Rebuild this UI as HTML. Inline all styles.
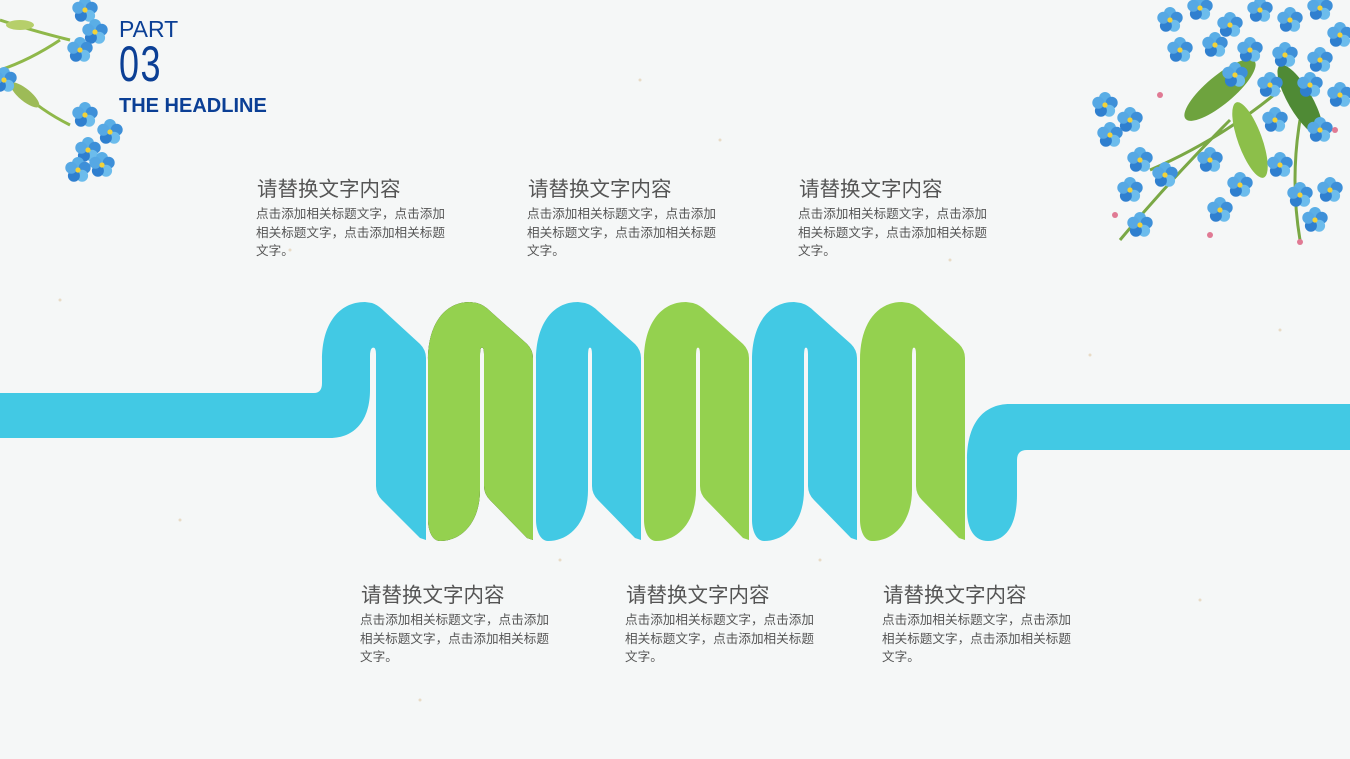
<!DOCTYPE html>
<html><head><meta charset="utf-8"><style>
body{margin:0;width:1350px;height:759px;overflow:hidden;background:#f5f7f7;font-family:"Liberation Sans","Noto Sans CJK SC",sans-serif;position:relative}
.t{position:absolute;font-size:20.5px;color:#555;white-space:nowrap}
.b{position:absolute;font-size:12.6px;line-height:18.6px;color:#555;width:200px}
svg{position:absolute;left:0;top:0}
</style></head><body>
<svg width="1350" height="759" viewBox="0 0 1350 759">
<defs>
<g id="fl">
<circle cx="0" cy="-7" r="6" fill="#5aaee6"/><circle cx="6.7" cy="-2.2" r="6" fill="#3d8fd8"/><circle cx="4.1" cy="5.7" r="6" fill="#6cbcec"/><circle cx="-4.1" cy="5.7" r="6" fill="#2f7fcf"/><circle cx="-6.7" cy="-2.2" r="6" fill="#56a8e4"/><circle r="2.6" fill="#f2d23a"/>
</g>
</defs>
<g fill="#e3cfb0" opacity=".7">
<circle cx="60" cy="300" r="1.5"/><circle cx="180" cy="520" r="1.5"/><circle cx="640" cy="80" r="1.5"/><circle cx="820" cy="560" r="1.5"/><circle cx="1090" cy="355" r="1.5"/><circle cx="1200" cy="600" r="1.5"/><circle cx="420" cy="700" r="1.5"/><circle cx="950" cy="260" r="1.5"/><circle cx="290" cy="250" r="1.5"/><circle cx="1280" cy="330" r="1.5"/><circle cx="720" cy="140" r="1.5"/><circle cx="560" cy="560" r="1.5"/>
</g>
<path fill="#42c9e4" d="M0,393 L314,393 Q322,393 322,383 L322,360 C322,325 338,302 365,302 L372,303 Q378,305 384,311 L420,344 Q426,350 426,358 L426,540 L420,538 L382,500 Q376,494 376,486 L376,354 Q376,346 372,348 Q370,350 370,356 L370,390 C370,420 355,438 330,438 L0,438 Z"/>
<g id="pc">
<path d="M428,500 L428,360 C428,325 444,302 470,302 L477,303 Q484,305 490,311 L527,344 Q533,350 533,358 L533,540 L527,538 L490,500 Q484,494 484,486 L484,354 Q484,346 481,348 Q480,350 480,356 L480,490 C480,522 462,541 440,541 C432,541 428,530 428,520 Z"/>
</g>
<use href="#pc" fill="#94d14f"/>
<use href="#pc" x="108" fill="#42c9e4"/>
<use href="#pc" x="216" fill="#94d14f"/>
<use href="#pc" x="324" fill="#42c9e4"/>
<use href="#pc" x="432" fill="#94d14f"/>
<path fill="#42c9e4" d="M1350,404 L1010,404 C982,404 967,425 967,460 L967,510 C967,530 975,541 988,541 C1006,541 1017,525 1017,495 L1017,460 Q1017,450 1027,450 L1350,450 Z"/>
<path d="M0,70 Q30,60 60,40 M20,90 Q40,110 70,125 M0,20 Q30,30 70,40" stroke="#8fb84a" stroke-width="3" fill="none"/>
<ellipse cx="25" cy="95" rx="18" ry="6" fill="#9dbb57" transform="rotate(40 25 95)"/>
<ellipse cx="20" cy="25" rx="14" ry="5" fill="#b6cf6a"/>
<use href="#fl" x="85" y="10"/><use href="#fl" x="95" y="32"/><use href="#fl" x="80" y="50"/><use href="#fl" x="4" y="80"/>
<use href="#fl" x="85" y="115"/><use href="#fl" x="110" y="132"/><use href="#fl" x="88" y="150"/><use href="#fl" x="102" y="165"/><use href="#fl" x="78" y="170"/>
<path d="M1120,240 Q1170,180 1230,120 M1150,170 Q1220,140 1280,90 M1300,240 Q1290,180 1300,120" stroke="#7aa845" stroke-width="3" fill="none"/>
<ellipse cx="1220" cy="90" rx="45" ry="14" fill="#6ea33e" transform="rotate(-40 1220 90)"/>
<ellipse cx="1250" cy="140" rx="40" ry="12" fill="#8cbf4a" transform="rotate(70 1250 140)"/>
<ellipse cx="1300" cy="100" rx="40" ry="12" fill="#4f8a35" transform="rotate(60 1300 100)"/>
<g>
<use href="#fl" x="1170" y="20"/><use href="#fl" x="1200" y="8"/><use href="#fl" x="1230" y="25"/><use href="#fl" x="1260" y="10"/><use href="#fl" x="1290" y="20"/><use href="#fl" x="1320" y="8"/><use href="#fl" x="1340" y="35"/>
<use href="#fl" x="1180" y="50"/><use href="#fl" x="1215" y="45"/><use href="#fl" x="1250" y="50"/><use href="#fl" x="1285" y="55"/><use href="#fl" x="1320" y="60"/>
<use href="#fl" x="1235" y="75"/><use href="#fl" x="1270" y="85"/><use href="#fl" x="1310" y="85"/><use href="#fl" x="1340" y="95"/>
<use href="#fl" x="1105" y="105"/><use href="#fl" x="1130" y="120"/><use href="#fl" x="1110" y="135"/><use href="#fl" x="1275" y="120"/><use href="#fl" x="1320" y="130"/>
<use href="#fl" x="1140" y="160"/><use href="#fl" x="1165" y="175"/><use href="#fl" x="1130" y="190"/><use href="#fl" x="1210" y="160"/><use href="#fl" x="1240" y="185"/><use href="#fl" x="1280" y="165"/>
<use href="#fl" x="1300" y="195"/><use href="#fl" x="1330" y="190"/><use href="#fl" x="1220" y="210"/><use href="#fl" x="1140" y="225"/><use href="#fl" x="1315" y="220"/>
</g>
<g fill="#e07a94"><circle cx="1115" cy="215" r="3"/><circle cx="1210" cy="235" r="3"/><circle cx="1300" cy="242" r="3"/><circle cx="1160" cy="95" r="3"/><circle cx="1335" cy="130" r="3"/></g>
</svg>
<div style="position:absolute;left:119px;top:16px;font-size:23px;color:#0b3f95">PART</div>
<div style="position:absolute;left:119px;top:36px;font-size:50px;color:#0b3f95;transform:scaleX(.72);transform-origin:left top;letter-spacing:2px;line-height:56px">03</div>
<div style="position:absolute;left:119px;top:95px;font-size:20px;font-weight:bold;color:#0b3f95">THE HEADLINE</div>

<div class="t" style="left:257px;top:172px">请替换文字内容</div>
<div class="b" style="left:256px;top:205px">点击添加相关标题文字，点击添加相关标题文字，点击添加相关标题文字。</div>
<div class="t" style="left:528px;top:172px">请替换文字内容</div>
<div class="b" style="left:527px;top:205px">点击添加相关标题文字，点击添加相关标题文字，点击添加相关标题文字。</div>
<div class="t" style="left:799px;top:172px">请替换文字内容</div>
<div class="b" style="left:798px;top:205px">点击添加相关标题文字，点击添加相关标题文字，点击添加相关标题文字。</div>

<div class="t" style="left:361px;top:578px">请替换文字内容</div>
<div class="b" style="left:360px;top:611px">点击添加相关标题文字，点击添加相关标题文字，点击添加相关标题文字。</div>
<div class="t" style="left:626px;top:578px">请替换文字内容</div>
<div class="b" style="left:625px;top:611px">点击添加相关标题文字，点击添加相关标题文字，点击添加相关标题文字。</div>
<div class="t" style="left:883px;top:578px">请替换文字内容</div>
<div class="b" style="left:882px;top:611px">点击添加相关标题文字，点击添加相关标题文字，点击添加相关标题文字。</div>
</body></html>
